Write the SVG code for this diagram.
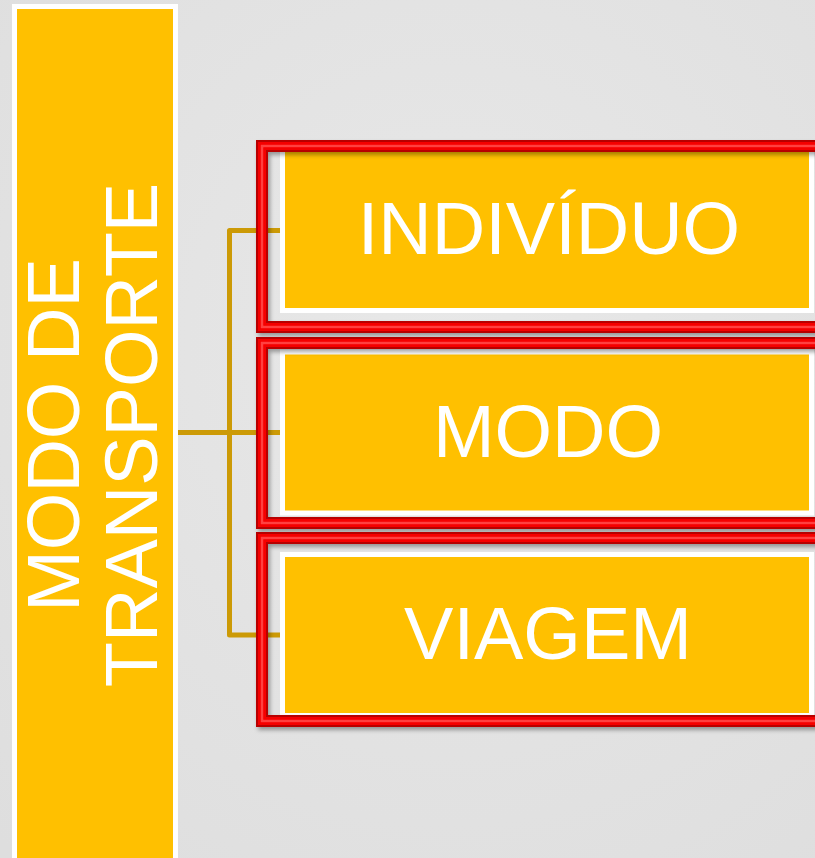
<svg xmlns="http://www.w3.org/2000/svg" width="815" height="858" viewBox="0 0 815 858">
  <defs>
    <radialGradient id="bg" cx="0.55" cy="0.4" r="0.8">
      <stop offset="0" stop-color="#E8E8E8"/>
      <stop offset="1" stop-color="#DEDEDE"/>
    </radialGradient>
    <filter id="frameShadow" x="-5%" y="-5%" width="115%" height="120%">
      <feDropShadow dx="2" dy="3" stdDeviation="2" flood-color="#000000" flood-opacity="0.35"/>
    </filter>
    <style>
      .panel { fill: #FFC000; stroke: #FFFFFF; stroke-width: 5; }
      .label { font-family: "Liberation Sans", Arial, sans-serif; font-size: 74px; fill: #FFFFFF; text-anchor: middle; }
      .link { fill: none; stroke: #CC9A06; stroke-width: 5; stroke-linejoin: round; }
      .frame-dark { fill: none; stroke: #B80000; stroke-width: 12; stroke-linejoin: miter; }
      .frame-mid { fill: none; stroke: #F50000; stroke-width: 8; stroke-linejoin: miter; }
      .frame-hi { fill: none; stroke: #FF4040; stroke-width: 2.5; stroke-linejoin: miter; }
    </style>
  </defs>

  <!-- backdrop -->
  <rect x="0" y="0" width="815" height="858" fill="url(#bg)"/>

  <!-- parent: vertical title panel -->
  <g id="node-modo-de-transporte">
    <rect class="panel" x="14.5" y="6.5" width="161" height="860"/>
    <text class="label" transform="translate(79,435) rotate(-90)" x="0" y="0">MODO DE</text>
    <text class="label" transform="translate(157,435) rotate(-90)" x="0" y="0">TRANSPORTE</text>
  </g>

  <!-- connectors: bracket from the title panel to the three items -->
  <g id="connectors">
    <path class="link" d="M178 432.5 H282"/>
    <path class="link" d="M282 230.5 H229.5 V635 H282"/>
  </g>

  <!-- item 1 -->
  <g id="node-individuo">
    <rect class="panel" x="282.5" y="149.5" width="529" height="161"/>
    <text class="label" x="549" y="254">INDIVÍDUO</text>
    <g filter="url(#frameShadow)">
      <rect class="frame-dark" x="262" y="146" width="580" height="181"/>
      <rect class="frame-mid" x="262" y="146" width="580" height="181"/>
      <rect class="frame-hi" x="262" y="146" width="580" height="181"/>
    </g>
  </g>

  <!-- item 2 -->
  <g id="node-modo">
    <rect class="panel" x="282.5" y="352" width="529" height="161"/>
    <text class="label" x="548" y="457">MODO</text>
    <g filter="url(#frameShadow)">
      <rect class="frame-dark" x="262" y="343" width="580" height="180"/>
      <rect class="frame-mid" x="262" y="343" width="580" height="180"/>
      <rect class="frame-hi" x="262" y="343" width="580" height="180"/>
    </g>
  </g>

  <!-- item 3 -->
  <g id="node-viagem">
    <rect class="panel" x="282.5" y="554.5" width="529" height="161"/>
    <text class="label" x="548" y="659">VIAGEM</text>
    <g filter="url(#frameShadow)">
      <rect class="frame-dark" x="262" y="538" width="580" height="183"/>
      <rect class="frame-mid" x="262" y="538" width="580" height="183"/>
      <rect class="frame-hi" x="262" y="538" width="580" height="183"/>
    </g>
  </g>
</svg>
